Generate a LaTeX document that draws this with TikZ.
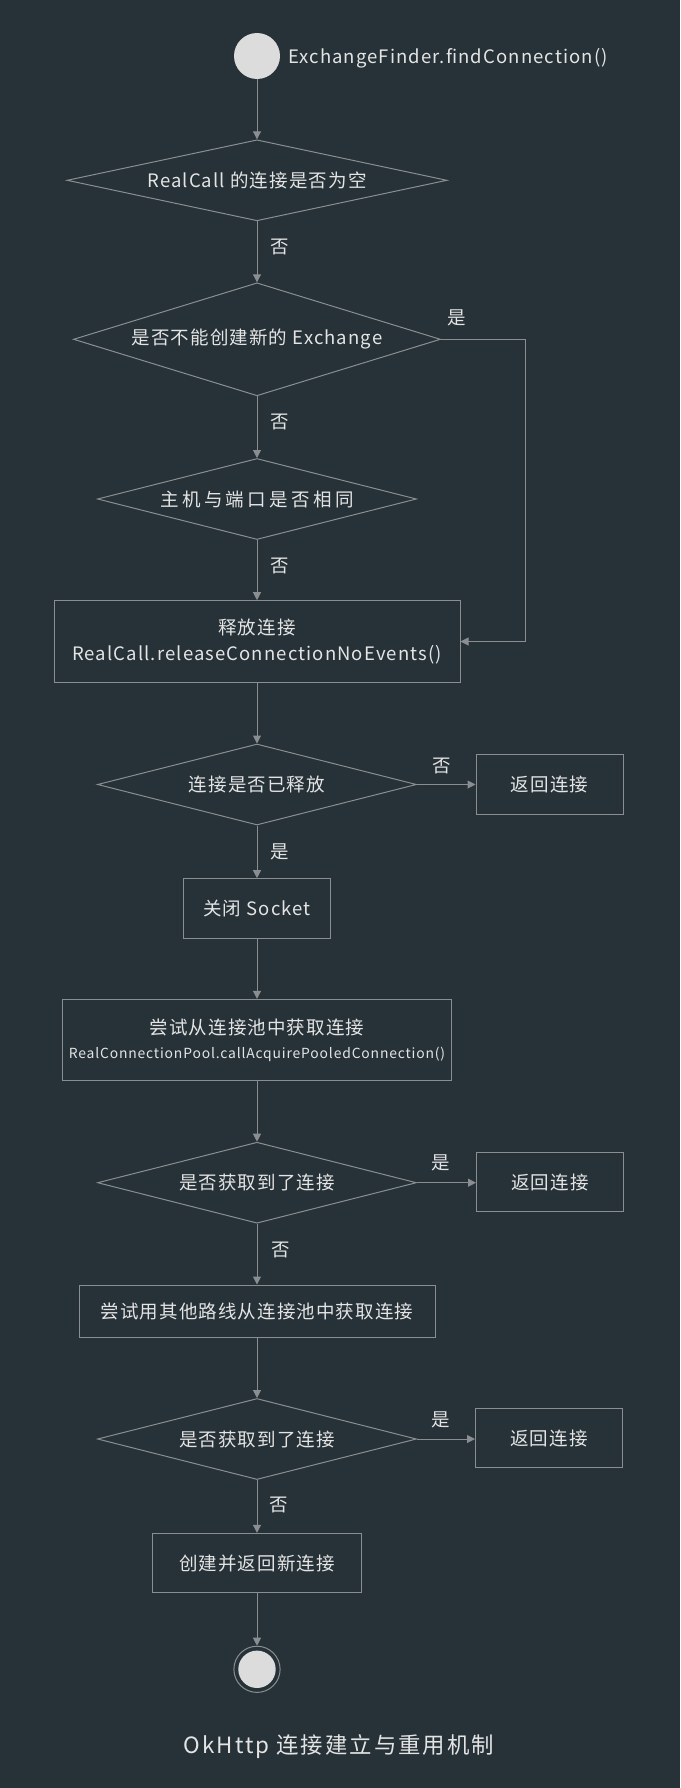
\documentclass[tikz,border=0pt]{standalone}
\usepackage{fontspec}
\setmainfont{Noto Sans CJK SC}
\newfontfamily\bodyfont{Noto Sans CJK SC}[LetterSpace=6]
\newfontfamily\widefont{Noto Sans CJK SC}[LetterSpace=18]
\newfontfamily\titlefont{Noto Sans CJK SC}[LetterSpace=9]
\usetikzlibrary{shapes.geometric,arrows.meta}
\definecolor{bg}{HTML}{263238}
\definecolor{ln}{HTML}{8A8E91}
\definecolor{tx}{HTML}{E4E4E4}
\definecolor{dot}{HTML}{DCDCDC}
\tikzset{
  basefont/.style={font=\bodyfont\fontsize{18.5}{26.6}\selectfont},
  decision/.style={diamond, draw=ln, line width=1pt, inner sep=0pt, text=tx, basefont},
  procbox/.style={rectangle, draw=ln, line width=1pt, inner sep=0pt, align=center, text=tx, basefont},
  conn/.style={draw=ln, line width=1pt, -{Triangle[length=8pt,width=8pt]}},
  lab/.style={text=tx, basefont, inner sep=0pt},
}
\begin{document}
\begin{tikzpicture}[x=1pt,y=-1pt]
\fill[bg] (0,0) rectangle (680,1788);
\useasboundingbox (0,0) rectangle (680,1788);

% start
\node[circle, fill=dot, minimum size=46pt, inner sep=0pt] (start) at (257,56) {};
\node[lab, anchor=base west] (startlbl) at (288,63.3) {ExchangeFinder.findConnection()};

% decisions and boxes
\node[decision, aspect=4.69, minimum width=380pt, minimum height=81pt] (d1) at (257,180.3) {RealCall 的连接是否为空};
\node[decision, aspect=3.25, minimum width=367pt, minimum height=113pt] (d2) at (257,339.3) {是否不能创建新的 Exchange};
\node[decision, aspect=3.94, minimum width=319pt, minimum height=81pt] (d3) at (257,499) {{\widefont 主机与端口是否相同}};
\node[procbox, minimum width=406pt, minimum height=81.6pt] (rel) at (257,641.5) {释放连接\\RealCall.releaseConnectionNoEvents()};
\node[decision, aspect=3.94, minimum width=319pt, minimum height=81pt] (d4) at (257,784.5) {连接是否已释放};
\node[procbox, minimum width=147pt, minimum height=59.3pt] (ret1) at (549.5,784.4) {返回连接};
\node[procbox, minimum width=147.5pt, minimum height=59.6pt] (sock) at (257,908.5) {关闭 Socket};
\node[procbox, minimum width=389pt, minimum height=81.4pt] (pool) at (257,1040) {尝试从连接池中获取连接\\[-3pt]{\fontsize{13.9}{17}\selectfont RealConnectionPool.callAcquirePooledConnection()}};
\node[decision, aspect=3.94, minimum width=319pt, minimum height=81pt] (d5) at (257,1182.7) {是否获取到了连接};
\node[procbox, minimum width=147pt, minimum height=59pt] (ret2) at (550,1182.2) {返回连接};
\node[procbox, minimum width=356pt, minimum height=52pt] (other) at (257,1311) {尝试用其他路线从连接池中获取连接};
\node[decision, aspect=3.94, minimum width=319pt, minimum height=81pt] (d6) at (257,1439) {是否获取到了连接};
\node[procbox, minimum width=147pt, minimum height=59pt] (ret3) at (549,1438.2) {返回连接};
\node[procbox, minimum width=209pt, minimum height=59.4pt] (create) at (257,1563) {创建并返回新连接};

% end
\node[circle, draw=ln, line width=1pt, minimum size=46.2pt, inner sep=0pt] (end) at (257,1669.3) {};
\node[circle, fill=dot, minimum size=37.4pt, inner sep=0pt] (endin) at (end.center) {};

% title
\node[text=tx, inner sep=0pt, font=\titlefont\fontsize{22.4}{28}\selectfont] (title) at (339,1747) {OkHttp 连接建立与重用机制};

% connectors
\draw[conn] (start) -- (d1.north);
\draw[conn] (d1.south) -- (d2.north);
\draw[conn] (d2.south) -- (d3.north);
\coordinate (bendA) at (525.7,339.3);
\coordinate (bendB) at (525.7,641.5);
\draw[conn] (d2.east) -- (bendA) -- (bendB) -- (rel.east);
\draw[conn] (d3.south) -- (rel.north);
\draw[conn] (rel.south) -- (d4.north);
\draw[conn] (d4.east) -- (d4.east -| ret1.west);
\draw[conn] (d4.south) -- (sock.north);
\draw[conn] (sock.south) -- (pool.north);
\draw[conn] (pool.south) -- (d5.north);
\draw[conn] (d5.east) -- (d5.east -| ret2.west);
\draw[conn] (d5.south) -- (other.north);
\draw[conn] (other.south) -- (d6.north);
\draw[conn] (d6.east) -- (d6.east -| ret3.west);
\draw[conn] (d6.south) -- (create.north);
\draw[conn] (create.south) -- (end.north);

% branch labels
\node[lab] (l1) at (280,247) {否};
\node[lab] (l2) at (280,422) {否};
\node[lab] (l3) at (456.7,318) {是};
\node[lab] (l4) at (280,566) {否};
\node[lab] (l5) at (441.7,765.7) {否};
\node[lab] (l6) at (280,851.7) {是};
\node[lab] (l7) at (441,1163.3) {是};
\node[lab] (l8) at (281,1250) {否};
\node[lab] (l9) at (441,1419.6) {是};
\node[lab] (l10) at (279,1505) {否};
\end{tikzpicture}
\end{document}
